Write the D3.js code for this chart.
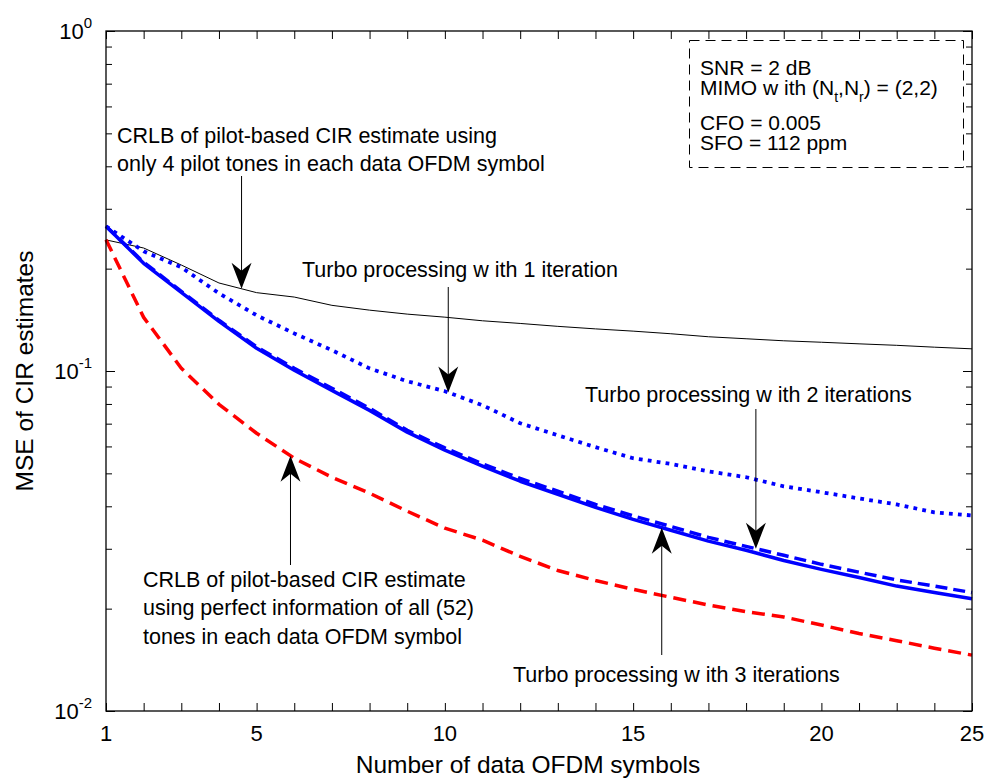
<!DOCTYPE html>
<html>
<head>
<meta charset="utf-8">
<script src="https://cdn.jsdelivr.net/npm/d3@7"></script>
<style>
  body { margin: 0; background: #fff; }
  svg { display: block; font-family: "Liberation Sans", Arial, sans-serif; }
</style>
</head>
<body>
<svg id="chart" width="989" height="780"></svg>
<script>
// Number of data OFDM symbols used for the estimate
const symbols = [1, 2, 3, 4, 5, 6, 7, 8, 9, 10, 11, 12, 13, 14, 15, 16, 17, 18, 19, 20, 21, 22, 23, 24];

// MSE of CIR estimates per curve
const crlbPilot4 = [0.243, 0.230, 0.205, 0.1815, 0.170, 0.165, 0.156, 0.151, 0.147, 0.144, 0.1405, 0.138,
                    0.1353, 0.133, 0.131, 0.1287, 0.1261, 0.1244, 0.1227, 0.1215, 0.1202, 0.119, 0.1175, 0.1162];
const turbo1 = [0.2665, 0.225, 0.2018, 0.1693, 0.1458, 0.129, 0.1151, 0.1018, 0.0933, 0.0872, 0.0793, 0.0702,
                0.0647, 0.0597, 0.0554, 0.0533, 0.0507, 0.0487, 0.0458, 0.044, 0.0422, 0.0405, 0.0384, 0.0376];
const turbo2 = [0.2665, 0.2089, 0.1715, 0.141, 0.1178, 0.1018, 0.089, 0.0777, 0.0669, 0.0594, 0.0533, 0.0483,
                0.0443, 0.0405, 0.0375, 0.0349, 0.0324, 0.0305, 0.0287, 0.027, 0.0256, 0.0243, 0.0233, 0.0223];
const turbo3 = [0.2665, 0.2073, 0.1703, 0.140, 0.1166, 0.1005, 0.0877, 0.0766, 0.0661, 0.0585, 0.0525, 0.0474,
                0.0434, 0.0397, 0.0366, 0.034, 0.0316, 0.0297, 0.0277, 0.0261, 0.0247, 0.0233, 0.0223, 0.0214];
const crlbAll52 = [0.2434, 0.1438, 0.1019, 0.0798, 0.0656, 0.0554, 0.0487, 0.0437, 0.0387, 0.0345, 0.0318, 0.0285,
                   0.0259, 0.0242, 0.0228, 0.0216, 0.0205, 0.0196, 0.0189, 0.0179, 0.0169, 0.0161, 0.0153, 0.0146];

// Axis tick labels
const xTickValues = [1, 5, 10, 15, 20, 24];
const xTickLabels = ["1", "5", "10", "15", "20", "25"];
const yTickExponents = [0, -1, -2];

const W = 989, H = 780;
const margin = { left: 106, right: 17, top: 31, bottom: 69 };
const svg = d3.select("#chart");
svg.append("rect").attr("width", W).attr("height", H).attr("fill", "#fff");

const x = d3.scaleLinear().domain([1, 24]).range([margin.left, W - margin.right]);
const y = d3.scaleLog().domain([0.01, 1]).range([H - margin.bottom, margin.top]);

const x0 = x.range()[0], x1 = x.range()[1];
const yTop = y.range()[1], yBot = y.range()[0];

// ---- ticks (inside the frame, on all four sides) ----
const styleAxis = g => {
  g.select(".domain").remove();
  g.selectAll(".tick line").attr("stroke", "#000").attr("stroke-width", 1);
};
svg.append("g").attr("transform", `translate(0,${yBot})`)
  .call(d3.axisBottom(x).tickValues(symbols).tickSizeInner(-8).tickSizeOuter(0).tickFormat(""))
  .call(styleAxis);
svg.append("g").attr("transform", `translate(0,${yTop})`)
  .call(d3.axisTop(x).tickValues(symbols).tickSizeInner(-8).tickSizeOuter(0).tickFormat(""))
  .call(styleAxis);

const yMajor = yTickExponents.map(e => Math.pow(10, e));
const yMinor = y.ticks().filter(v => !yMajor.some(m => Math.abs(m - v) / m < 1e-6));
[[yMinor, 6], [yMajor, 9]].forEach(([vals, len]) => {
  svg.append("g").attr("transform", `translate(${x0},0)`)
    .call(d3.axisLeft(y).tickValues(vals).tickSizeInner(-len).tickSizeOuter(0).tickFormat(""))
    .call(styleAxis);
  svg.append("g").attr("transform", `translate(${x1},0)`)
    .call(d3.axisRight(y).tickValues(vals).tickSizeInner(-len).tickSizeOuter(0).tickFormat(""))
    .call(styleAxis);
});

// x tick labels
svg.append("g").selectAll("text").data(xTickValues).join("text")
  .attr("x", d => x(d)).attr("y", yBot + 30)
  .attr("text-anchor", "middle").attr("font-size", 22).attr("fill", "#000")
  .text((d, i) => xTickLabels[i]);

// y tick labels with superscript exponents
const yl = svg.append("g").selectAll("text").data(yTickExponents).join("text")
  .attr("x", 92).attr("y", d => y(Math.pow(10, d)) + 8)
  .attr("text-anchor", "end").attr("font-size", 22).attr("fill", "#000");
yl.append("tspan").text("10");
yl.append("tspan").attr("dy", -11).attr("font-size", 15).text(d => d);

// axis titles
svg.append("text").attr("x", 528).attr("y", 773).attr("text-anchor", "middle")
  .attr("font-size", 24.5).attr("fill", "#000").text("Number of data OFDM symbols");
svg.append("text").attr("transform", `translate(33,${(yTop + yBot) / 2}) rotate(-90)`)
  .attr("text-anchor", "middle").attr("font-size", 24.5).attr("fill", "#000").text("MSE of CIR estimates");

// ---- curves ----
const line = d3.line().x((d, i) => x(symbols[i])).y(d => y(d));
const curves = [
  { data: crlbPilot4, color: "#000", width: 1, dash: null },
  { data: crlbAll52, color: "#ff0000", width: 3.5, dash: "13,7" },
  { data: turbo1, color: "#0000ff", width: 3.8, dash: "3.8,5.2" },
  { data: turbo3, color: "#0000ff", width: 3.5, dash: null },
  { data: turbo2, color: "#0000ff", width: 3.5, dash: "12,6" }
];
svg.append("g").selectAll("path").data(curves).join("path")
  .attr("d", d => line(d.data))
  .attr("fill", "none")
  .attr("stroke", d => d.color)
  .attr("stroke-width", d => d.width)
  .attr("stroke-dasharray", d => d.dash)
  .attr("stroke-linejoin", "round");

// frame
svg.append("rect").attr("x", x0).attr("y", yTop).attr("width", x1 - x0).attr("height", yBot - yTop)
  .attr("fill", "none").attr("stroke", "#000").attr("stroke-width", 1.3);

// ---- annotations ----
// value of a curve between two symbols, interpolated on the log axis
function valueAt(series, xv) {
  const i = Math.min(Math.floor(xv) - 1, series.length - 2);
  const t = xv - symbols[i];
  return Math.pow(10, Math.log10(series[i]) * (1 - t) + Math.log10(series[i + 1]) * t);
}

const notes = [
  { lines: ["CRLB of pilot-based CIR estimate using", "only 4 pilot tones in each data OFDM symbol"],
    tx: 117, ty: 143, at: 4.6, series: crlbPilot4, tail: 176 },
  { lines: ["Turbo processing w ith 1 iteration"],
    tx: 302, ty: 277, at: 10.09, series: turbo1, tail: 287 },
  { lines: ["Turbo processing w ith 2 iterations"],
    tx: 585, ty: 402, at: 18.26, series: turbo2, tail: 409 },
  { lines: ["CRLB of pilot-based CIR estimate", "using perfect information of all (52)", "tones in each data OFDM symbol"],
    tx: 143, ty: 587, at: 5.9, series: crlbAll52, tail: 565 },
  { lines: ["Turbo processing w ith 3 iterations"],
    tx: 513, ty: 682, at: 15.76, series: turbo3, tail: 655 }
];

const ng = svg.append("g");
notes.forEach(n => {
  const t = ng.append("text").attr("font-size", 21.5).attr("fill", "#000");
  n.lines.forEach((s, i) => t.append("tspan").attr("x", n.tx).attr("y", n.ty + i * 28.3).text(s));
  const px = x(n.at), py = y(valueAt(n.series, n.at));
  const dir = n.tail < py ? 1 : -1; // 1: arrow points down
  ng.append("line").attr("x1", px).attr("x2", px).attr("y1", n.tail).attr("y2", py - dir * 17)
    .attr("stroke", "#000").attr("stroke-width", 1);
  ng.append("path")
    .attr("d", `M${px},${py} L${px - 10},${py - dir * 26} L${px},${py - dir * 18} L${px + 10},${py - dir * 26} Z`)
    .attr("fill", "#000");
});

// ---- parameter box ----
svg.append("rect").attr("x", 689.5).attr("y", 40.5).attr("width", 274).attr("height", 127)
  .attr("fill", "#fff").attr("stroke", "#000").attr("stroke-width", 1).attr("stroke-dasharray", "10,6");
const pg = svg.append("g").attr("font-size", 21).attr("fill", "#000");
pg.append("text").attr("x", 700).attr("y", 75).text("SNR = 2 dB");
const mimo = pg.append("text").attr("x", 700).attr("y", 95);
mimo.append("tspan").text("MIMO w ith (N");
mimo.append("tspan").attr("dy", 7).attr("font-size", 14).text("t");
mimo.append("tspan").attr("dy", -7).text(",N");
mimo.append("tspan").attr("dy", 7).attr("font-size", 14).text("r");
mimo.append("tspan").attr("dy", -7).text(") = (2,2)");
pg.append("text").attr("x", 700).attr("y", 130).text("CFO = 0.005");
pg.append("text").attr("x", 700).attr("y", 150).text("SFO = 112 ppm");
</script>
</body>
</html>
